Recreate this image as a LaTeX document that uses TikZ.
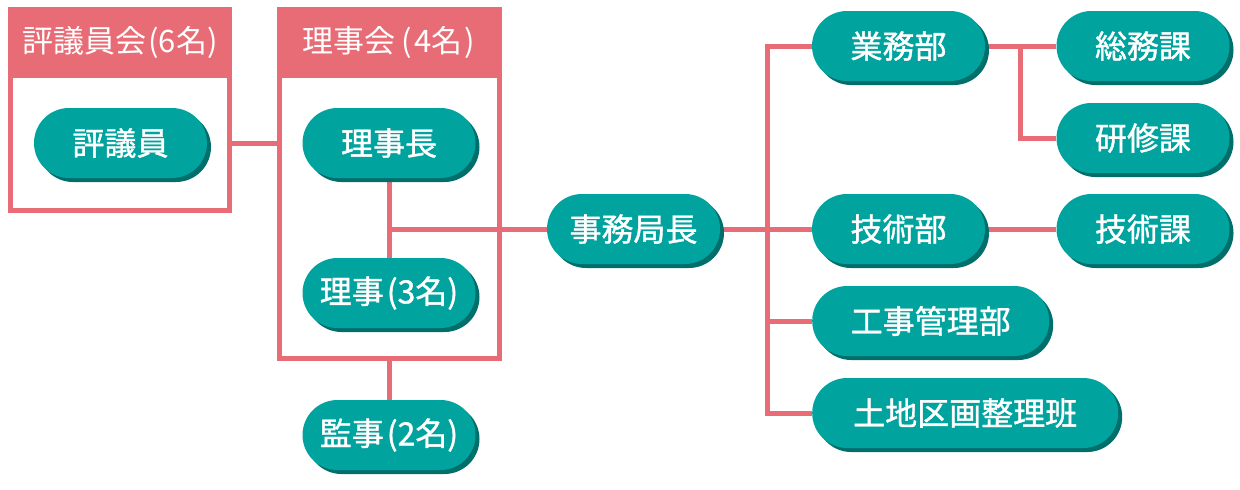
\documentclass[tikz,border=0pt]{standalone}
\usepackage{fontspec}
\setmainfont{Noto Sans CJK JP}
\newfontfamily\pillfont{Noto Sans CJK JP}[FakeBold=1.2]
\usetikzlibrary{shadows,backgrounds}
\definecolor{linepink}{HTML}{E86C76}
\definecolor{pillteal}{HTML}{00A39E}
\definecolor{pillshadow}{HTML}{006F6B}
\begin{document}
\begin{tikzpicture}[x=1pt, y=-1pt,
    pill/.style={fill=pillteal, text=white, rounded corners=35pt, minimum width=173pt, minimum height=70pt, inner sep=0pt,
        font=\pillfont\fontsize{32}{38}\selectfont, drop shadow={shadow xshift=4pt, shadow yshift=-4pt, fill=pillshadow, opacity=1}},
    council/.style={draw=linepink, line width=5pt, inner sep=0pt},
    head/.style={fill=linepink, text=white, inner sep=0pt, anchor=north, font=\fontsize{31}{36}\selectfont},
    link/.style={draw=linepink, line width=5pt}]
    \useasboundingbox (0,0) rectangle (1240,490);
    % boxes
    \node[council, minimum width=219pt, minimum height=199pt] (hyokai) at (120,111) {};
    \node[head, minimum width=224pt, minimum height=71pt] (hyohead) at ([yshift=2.5pt]hyokai.north)
        {\raisebox{-3pt}{評議員会\hspace{2pt}(6名)}};
    \node[council, minimum width=220pt, minimum height=347pt] (rijikai) at (389,185) {};
    \node[head, minimum width=225pt, minimum height=71pt] (rijihead) at ([yshift=2.5pt]rijikai.north)
        {\raisebox{-3pt}{理事会\hspace{6pt}(\hspace{2pt}4名\hspace{2pt})}};
    % left side
    \node[pill] (hyoin) at (120.5,143) {評議員};
    \node[pill] (richo) at (389,143) {理事長};
    \node[pill] (riji) at (389,293) {理事\hspace{3pt}(3名)};
    \node[pill] (kanji) at (389,435) {監事\hspace{3pt}(2名)};
    \node[pill] (jimu) at (633.5,229) {事務局長};
    % right side
    \node[pill] (gyomu) at (898.5,46) {業務部};
    \node[pill] (somu) at (1143,46) {総務課};
    \node[pill] (kenshu) at (1143,138) {研修課};
    \node[pill] (gijutsu) at (898.5,229) {技術部};
    \node[pill] (gika) at (1143,229) {技術課};
    \node[pill, minimum width=237pt, anchor=west] (koji) at (812,321) {工事管理部};
    \node[pill, minimum width=306pt, anchor=west] (tochi) at (812,413) {土地区画整理班};
    % connectors
    \begin{scope}[on background layer]
        \draw[link] (hyoin -| hyokai.east) -- (hyoin -| rijikai.west);
        \draw[link] (richo) -- (riji);
        \coordinate (mid) at (richo |- jimu);
        \draw[link] (mid) -- (jimu);
        \draw[link] (rijikai.south) -- (kanji);
        \coordinate (trunk) at (767,229);
        \draw[link] (jimu) -- (trunk);
        \draw[link] (gyomu.west) -| (trunk |- tochi) -- (tochi.west);
        \draw[link] (trunk |- gijutsu) -- (gijutsu);
        \draw[link] (trunk |- koji) -- (koji);
        \draw[link] (gyomu) -- (somu);
        \path (gyomu.east) -- (somu.west) coordinate[midway] (fork);
        \draw[link] (fork) |- (kenshu.west);
        \draw[link] (gijutsu) -- (gika);
    \end{scope}
\end{tikzpicture}
\end{document}
